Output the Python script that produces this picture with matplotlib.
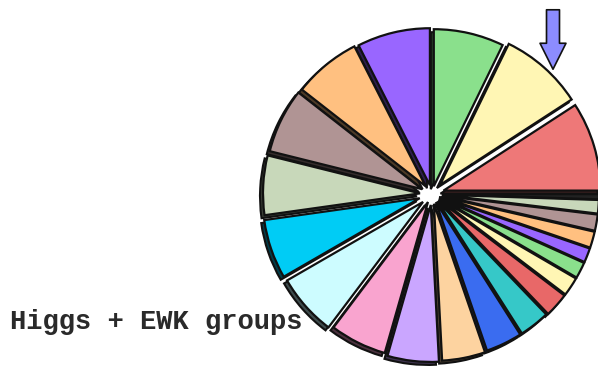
import matplotlib.pyplot as plt
import matplotlib.colors as mcolors

# slice sizes (degrees of the pie), counterclockwise from 3 o'clock
sizes = [33, 31, 26, 27, 25, 24, 22, 22, 23, 21, 19, 16, 13.5, 11.3, 9, 7, 6, 5.3, 6, 6, 5, 1.9]
colors = ["#ee7878", "#fff6b4", "#8ae08c", "#9966ff", "#ffc080", "#b09494", "#c8d8ba",
          "#00ccf5", "#cdfcff", "#f9a4cf", "#caa6ff", "#fdd3a0", "#3a6cf0", "#36c8c8",
          "#e86868", "#fff6b4", "#8ae08c", "#9966ff", "#ffc080", "#b09494", "#c8d8ba", "#222222"]
explode = [12, 12, 8, 9, 10, 11, 12, 13, 12, 9, 11, 10, 9, 9, 10, 10, 10, 10, 10, 10, 10, 10]
title = "Higgs + EWK groups"

W, H = 598, 367
fig = plt.figure(figsize=(W / 100, H / 100), dpi=100)
ax = fig.add_axes([0, 0, 1, 1])

cx, cy, r = 432, H - 194, 157

# shadow pie, shifted left and down
shadow = [tuple(c * 0.3 for c in mcolors.to_rgb(col)) for col in colors]
ax.pie(sizes, colors=shadow, explode=explode, radius=r, center=(cx - 3, cy - 3),
       startangle=0, counterclock=True, frame=True,
       wedgeprops=dict(edgecolor="#111111", linewidth=1.5))
ax.pie(sizes, colors=colors, explode=explode, radius=r, center=(cx, cy),
       startangle=0, counterclock=True, frame=True,
       wedgeprops=dict(edgecolor="#111111", linewidth=1.6))
ax.set_xlim(0, W)
ax.set_ylim(0, H)
ax.set_aspect("equal")
ax.axis("off")

fig.text(10 / W, 1 - 322 / H, title, family="Liberation Mono", weight="bold",
         fontsize=19.5, va="center", ha="left", color="#2a2a2a")

# blue arrow pointing down at the top right
ax.annotate("", xy=(553, H - 72), xytext=(553, H - 7),
            arrowprops=dict(arrowstyle="simple,head_width=1.1,head_length=1.1,tail_width=0.55",
                            fc="#8c8cff", ec="#111111", lw=1.2, mutation_scale=17))

fig.savefig("out.png", dpi=100)
